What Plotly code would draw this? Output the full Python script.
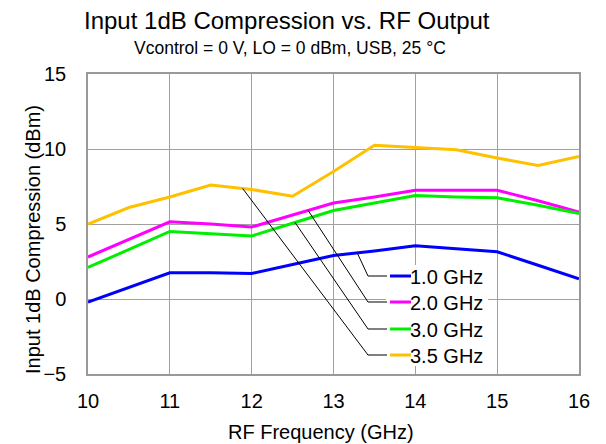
import numpy as np
import plotly.graph_objects as go

# RF frequency sweep (GHz)
freq_ghz = [10.0, 10.5, 11.0, 11.5, 12.0, 12.5, 13.0, 13.5, 14.0, 14.5, 15.0, 15.5, 16.0]

# Input P1dB (dBm) for each LO/IF setting
p1db_1g0 = [-0.2, 0.8, 1.75, 1.75, 1.7, 2.3, 2.9, 3.2, 3.55, 3.35, 3.15, 2.25, 1.35]
p1db_2g0 = [2.8, 4.0, 5.15, 5.0, 4.8, 5.6, 6.4, 6.8, 7.25, 7.25, 7.25, 6.55, 5.8]
p1db_3g0 = [2.1, 3.3, 4.5, 4.35, 4.2, 5.05, 5.9, 6.4, 6.9, 6.8, 6.75, 6.25, 5.7]
p1db_3g5 = [5.0, 6.1, 6.8, 7.6, 7.3, 6.85, 8.5, 10.25, 10.1, 9.95, 9.4, 8.9, 9.5]

series_names = ["1.0 GHz", "2.0 GHz", "3.0 GHz", "3.5 GHz"]
series_vals = [p1db_1g0, p1db_2g0, p1db_3g0, p1db_3g5]
series_colors = ["#0000FF", "#FF00FF", "#00EE00", "#FFC000"]
# frequency where each leader line touches its curve
leader_freq = [13.29, 12.69, 12.53, 11.89]

x_ticks = [10, 11, 12, 13, 14, 15, 16]
y_ticks = [-5, 0, 5, 10, 15]

FONT = "Liberation Sans, Arial, sans-serif"

fig = go.Figure()
for name, vals, col in zip(series_names, series_vals, series_colors):
    fig.add_trace(go.Scatter(x=freq_ghz, y=vals, mode="lines", name=name,
                             line=dict(color=col, width=3), showlegend=False))

# plot-area geometry in pixels (used for the hand-built legend and titles)
W, H = 606, 444
ML, MR, MT, MB = 88, 27, 74, 70
pw, ph = W - ML - MR, H - MT - MB


def px_x(px):
    return (px - ML) / pw


def px_y(py):
    return (H - MB - py) / ph


shapes = []
annotations = []

# white box behind the legend entries
shapes.append(dict(type="rect", xref="paper", yref="paper",
                   x0=px_x(386), x1=px_x(488), y0=px_y(366), y1=px_y(265),
                   fillcolor="white", line=dict(width=0), layer="above"))

row_y = [276, 302, 329, 355]
for name, vals, col, lf, ry in zip(series_names, series_vals, series_colors, leader_freq, row_y):
    cy = float(np.interp(lf, freq_ghz, vals))
    # leader line: from curve down to elbow, then across to the sample
    shapes.append(dict(type="line", xref="x", yref="y", x0=lf, y0=cy,
                       x1=10 + (368 - ML) / pw * 6, y1=15 - (ry - MT) / ph * 20,
                       line=dict(color="black", width=1), layer="above"))
    shapes.append(dict(type="line", xref="paper", yref="paper",
                       x0=px_x(368), x1=px_x(387), y0=px_y(ry), y1=px_y(ry),
                       line=dict(color="black", width=1), layer="above"))
    shapes.append(dict(type="line", xref="paper", yref="paper",
                       x0=px_x(390), x1=px_x(411), y0=px_y(ry), y1=px_y(ry),
                       line=dict(color=col, width=3), layer="above"))
    annotations.append(dict(xref="paper", yref="paper", x=px_x(410), y=px_y(ry + 1),
                            text=name, showarrow=False, xanchor="left", yanchor="middle",
                            xshift=-2, font=dict(family=FONT, size=20, color="black")))

# titles
annotations.append(dict(xref="paper", yref="paper", x=px_x(287), y=px_y(20),
                        text="Input 1dB Compression vs. RF Output", showarrow=False,
                        xanchor="center", yanchor="middle",
                        font=dict(family=FONT, size=24, color="black")))
annotations.append(dict(xref="paper", yref="paper", x=px_x(290), y=px_y(48),
                        text="Vcontrol = 0 V, LO = 0 dBm, USB, 25 °C", showarrow=False,
                        xanchor="center", yanchor="middle",
                        font=dict(family=FONT, size=17.5, color="black")))
# axis titles
annotations.append(dict(xref="paper", yref="paper", x=px_x(321), y=px_y(432),
                        text="RF Frequency (GHz)", showarrow=False,
                        xanchor="center", yanchor="middle",
                        font=dict(family=FONT, size=20, color="black")))
annotations.append(dict(xref="paper", yref="paper", x=px_x(33), y=px_y(240),
                        text="Input 1dB Compression (dBm)", showarrow=False, textangle=-90,
                        xanchor="center", yanchor="middle",
                        font=dict(family=FONT, size=20, color="black")))

fig.update_layout(
    width=W, height=H,
    margin=dict(l=ML, r=MR, t=MT, b=MB),
    paper_bgcolor="white", plot_bgcolor="white",
    shapes=shapes, annotations=annotations,
    font=dict(family=FONT, size=20, color="black"),
)
fig.update_xaxes(range=[10, 16], tickvals=x_ticks, ticks="", showgrid=True,
                 gridcolor="#A0A0A0", gridwidth=1, showline=True, linecolor="#999999",
                 linewidth=1.5, mirror=True, zeroline=False,
                 tickfont=dict(size=20), ticklabelstandoff=8)
fig.update_yaxes(range=[-5, 15], tickvals=y_ticks, ticks="", showgrid=True,
                 gridcolor="#A0A0A0", gridwidth=1, showline=True, linecolor="#999999",
                 linewidth=1.5, mirror=True, zeroline=False,
                 tickfont=dict(size=20), ticklabelstandoff=16)

fig.write_html("out.html")
